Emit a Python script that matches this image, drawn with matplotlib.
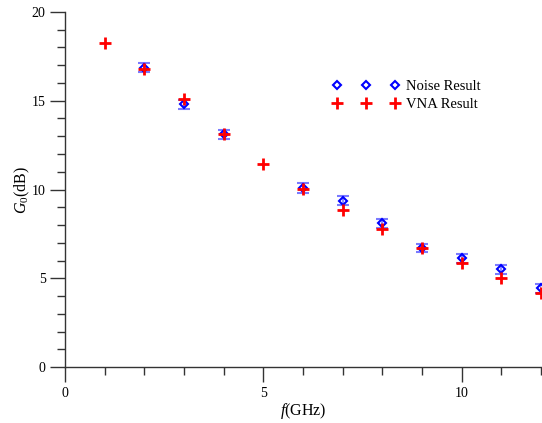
import numpy as np
import matplotlib
matplotlib.use("Agg")
import matplotlib.pyplot as plt
from matplotlib.ticker import MultipleLocator

plt.rcParams["font.family"] = ["Liberation Serif", "DejaVu Serif"]
plt.rcParams["mathtext.fontset"] = "custom"
plt.rcParams["mathtext.rm"] = "Liberation Serif"
plt.rcParams["mathtext.it"] = "Liberation Serif:italic"

# Gewinn aus Rauschmessung (mit Fehlerbalken)
f_noise = [2, 3, 4, 6, 7, 8, 9, 10, 11, 12]
g_noise = [16.86, 14.8, 13.1, 10.1, 9.37, 8.09, 6.72, 6.12, 5.5, 4.43]
g_noise_err = [0.27, 0.26, 0.26, 0.27, 0.26, 0.26, 0.22, 0.26, 0.27, 0.25]

# Gewinn aus VNA-Messung
f_vna = [1, 2, 3, 4, 5, 6, 7, 8, 9, 10, 11, 12]
g_vna = [18.25, 16.79, 15.08, 13.11, 11.42, 10.05, 8.85, 7.76, 6.7, 5.84, 5.0, 4.19]

fig = plt.figure(figsize=(5.42, 4.23), dpi=100)
ax = fig.add_axes([0.12, 0.132, 0.878, 0.84])

ax.errorbar(f_noise, g_noise, yerr=g_noise_err, fmt="none", ecolor=(0.3, 0.3, 1.0, 0.75),
            elinewidth=1.2, capsize=4.0, capthick=1.5, zorder=2)
ax.plot(f_noise, g_noise, "D", ms=4.5, mfc="none", mec="blue", mew=1.5,
        ls="none", label="Noise Result", zorder=3)
ax.plot(f_vna, g_vna, "+", ms=9, mec="red", mew=2, ls="none",
        label="VNA Result", zorder=4)

ax.set_xlim(0, 12)
ax.set_ylim(0, 20)
ax.xaxis.set_major_locator(MultipleLocator(5))
ax.xaxis.set_minor_locator(MultipleLocator(1))
ax.yaxis.set_major_locator(MultipleLocator(5))
ax.yaxis.set_minor_locator(MultipleLocator(1))

for side in ("top", "right"):
    ax.spines[side].set_visible(False)
for side in ("left", "bottom"):
    ax.spines[side].set_color("#333333")
    ax.spines[side].set_linewidth(1.0)

ax.tick_params(which="major", direction="out", length=11, width=1, colors="#333333",
               labelsize=10, labelcolor="black", pad=3)
ax.tick_params(which="minor", direction="out", length=6, width=1, colors="#333333")

ax.set_xlabel(r"$f$(GHz)", fontsize=11.5, labelpad=1)
ax.set_ylabel(r"$G_0$(dB)", fontsize=11.5, labelpad=0)

ax.legend(loc="upper left", bbox_to_anchor=(0.55, 0.825), numpoints=3, frameon=False,
          fontsize=10.5, handlelength=4.6, handletextpad=0.45, labelspacing=0.3,
          borderaxespad=0)

fig.savefig("out.png", dpi=100)
